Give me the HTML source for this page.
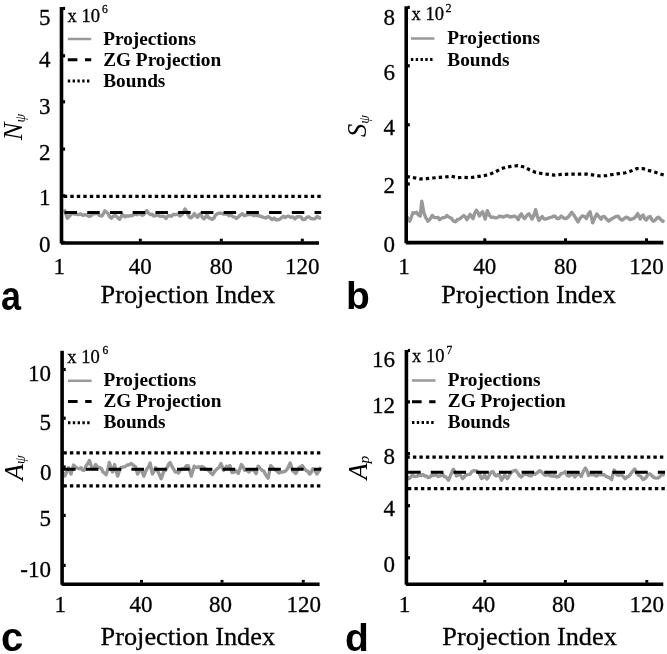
<!DOCTYPE html>
<html><head><meta charset="utf-8"><style>
html,body{margin:0;padding:0;background:#fff;}
svg{display:block;}
</style></head><body>
<div style="will-change:transform;width:667px;height:654px"><svg width="667" height="654" viewBox="0 0 667 654">
<rect width="667" height="654" fill="#fff"/>
<polyline points="64.4,209.2 67.3,218.2 69.7,215.9 72.0,213.0 74.0,214.1 76.0,214.0 78.3,214.7 80.6,214.0 82.9,215.4 85.3,214.6 87.3,215.5 89.3,216.3 91.3,215.6 93.2,213.6 95.1,213.8 97.0,213.0 99.5,215.6 101.9,216.0 103.4,213.8 104.9,210.8 107.8,213.2 109.7,216.7 111.5,218.2 113.5,216.0 115.5,215.6 117.5,217.4 119.5,219.3 122.4,214.6 125.2,216.8 127.0,215.8 128.7,216.2 130.5,215.7 132.6,215.5 134.7,213.9 136.8,214.7 138.6,213.9 140.4,213.9 142.3,215.3 144.1,214.2 146.8,210.5 148.6,213.2 150.4,214.7 152.2,214.2 153.9,216.1 155.7,215.7 157.8,215.0 159.9,216.4 162.0,216.3 164.1,216.5 166.2,218.4 167.8,215.9 169.3,215.7 171.4,216.3 173.5,214.3 175.6,214.7 177.7,214.0 179.8,215.9 181.9,214.7 183.4,212.7 185.0,208.9 186.6,211.3 188.1,214.7 189.7,217.4 191.3,217.8 192.9,215.8 194.4,213.6 196.0,215.9 197.6,217.3 199.1,214.7 200.7,213.6 202.3,217.3 203.9,218.9 205.4,217.3 207.0,214.7 208.6,217.7 210.2,218.4 212.3,219.4 213.9,218.2 215.4,215.2 217.5,213.7 219.6,213.1 221.7,213.3 223.8,214.2 225.5,213.9 227.3,214.3 229.0,215.7 231.2,215.2 233.3,216.8 234.9,217.1 236.4,218.4 238.5,216.8 240.6,214.7 242.4,213.7 244.1,215.5 245.9,215.2 248.0,214.6 250.1,214.4 252.2,214.7 253.7,215.7 255.2,215.2 257.3,215.7 259.4,215.8 261.5,216.7 263.6,217.3 265.7,218.0 267.9,216.6 270.0,217.8 272.1,219.6 274.1,218.1 276.2,219.9 278.0,219.8 279.7,219.3 281.5,217.8 283.3,216.3 285.1,217.7 287.0,216.4 288.8,216.3 290.9,217.4 293.0,216.9 295.1,218.9 297.2,216.8 299.3,216.8 301.1,216.9 302.8,219.6 304.6,219.4 306.7,217.4 308.8,216.8 310.9,218.5 313.0,218.9 315.1,218.6 317.2,216.3 319.1,218.0 321.0,217.5" fill="none" stroke="#999" stroke-width="3.4" stroke-linejoin="round" />
<line x1="63.8" y1="196.4" x2="321.2" y2="196.4" stroke="#000" stroke-width="3.2" stroke-dasharray="3.4 3.1"/>
<line x1="64.5" y1="212.4" x2="321.2" y2="212.4" stroke="#000" stroke-width="3" stroke-dasharray="12.5 10.23"/>
<line x1="61.5" y1="7" x2="61.5" y2="243.5" stroke="#000" stroke-width="3.6" />
<line x1="61.0" y1="243" x2="319" y2="243" stroke="#000" stroke-width="3.6" />
<line x1="63.0" y1="242.5" x2="65.1" y2="242.5" stroke="#000" stroke-width="3.2" />
<line x1="63.0" y1="195.8" x2="65.1" y2="195.8" stroke="#000" stroke-width="3.2" />
<line x1="63.0" y1="149.1" x2="65.1" y2="149.1" stroke="#000" stroke-width="3.2" />
<line x1="63.0" y1="101.8" x2="65.1" y2="101.8" stroke="#000" stroke-width="3.2" />
<line x1="63.0" y1="55.8" x2="65.1" y2="55.8" stroke="#000" stroke-width="3.2" />
<line x1="63.0" y1="8.5" x2="65.1" y2="8.5" stroke="#000" stroke-width="3.2" />
<line x1="140.3" y1="241.5" x2="140.3" y2="238.7" stroke="#000" stroke-width="3" />
<line x1="221.3" y1="241.5" x2="221.3" y2="238.7" stroke="#000" stroke-width="3" />
<line x1="302.3" y1="241.5" x2="302.3" y2="238.7" stroke="#000" stroke-width="3" />
<text x="50.5" y="251.5" font-family='"Liberation Serif", serif' font-size="23" font-weight="normal" font-style="normal" text-anchor="end" stroke="#000" stroke-width="0.3" >0</text>
<text x="50.5" y="205.2" font-family='"Liberation Serif", serif' font-size="23" font-weight="normal" font-style="normal" text-anchor="end" stroke="#000" stroke-width="0.3" >1</text>
<text x="50.5" y="159.5" font-family='"Liberation Serif", serif' font-size="23" font-weight="normal" font-style="normal" text-anchor="end" stroke="#000" stroke-width="0.3" >2</text>
<text x="50.5" y="113.5" font-family='"Liberation Serif", serif' font-size="23" font-weight="normal" font-style="normal" text-anchor="end" stroke="#000" stroke-width="0.3" >3</text>
<text x="50.5" y="66.8" font-family='"Liberation Serif", serif' font-size="23" font-weight="normal" font-style="normal" text-anchor="end" stroke="#000" stroke-width="0.3" >4</text>
<text x="50.5" y="24.5" font-family='"Liberation Serif", serif' font-size="23" font-weight="normal" font-style="normal" text-anchor="end" stroke="#000" stroke-width="0.3" >5</text>
<text x="59.3" y="273.8" font-family='"Liberation Serif", serif' font-size="23" font-weight="normal" font-style="normal" text-anchor="middle" stroke="#000" stroke-width="0.3" >1</text>
<text x="140.3" y="273.8" font-family='"Liberation Serif", serif' font-size="23" font-weight="normal" font-style="normal" text-anchor="middle" stroke="#000" stroke-width="0.3" >40</text>
<text x="221.3" y="273.8" font-family='"Liberation Serif", serif' font-size="23" font-weight="normal" font-style="normal" text-anchor="middle" stroke="#000" stroke-width="0.3" >80</text>
<text x="302.3" y="273.8" font-family='"Liberation Serif", serif' font-size="23" font-weight="normal" font-style="normal" text-anchor="middle" stroke="#000" stroke-width="0.3" >120</text>
<text x="100.6" y="302.6" font-family='"Liberation Serif", serif' font-size="25.2" font-weight="normal" font-style="normal" text-anchor="start" stroke="#000" stroke-width="0.3" textLength="174.5" lengthAdjust="spacingAndGlyphs">Projection Index</text>
<text x="1" y="309.5" font-family='"Liberation Sans", sans-serif' font-size="40" font-weight="bold" font-style="normal" text-anchor="start"  textLength="20" lengthAdjust="spacingAndGlyphs">a</text>
<line x1="67.8" y1="39" x2="91.2" y2="39" stroke="#999" stroke-width="2.5" />
<text x="103.2" y="45" font-family='"Liberation Serif", serif' font-size="18.6" font-weight="bold" font-style="normal" text-anchor="start"  textLength="92.8" lengthAdjust="spacingAndGlyphs">Projections</text>
<line x1="67.8" y1="59.8" x2="91.2" y2="59.8" stroke="#000" stroke-width="3" stroke-dasharray="9.6 7.6"/>
<text x="103.2" y="66.1" font-family='"Liberation Serif", serif' font-size="18.6" font-weight="bold" font-style="normal" text-anchor="start"  textLength="118" lengthAdjust="spacingAndGlyphs">ZG Projection</text>
<line x1="67.8" y1="80.9" x2="91.2" y2="80.9" stroke="#000" stroke-width="3" stroke-dasharray="2.4 2.4"/>
<text x="103.2" y="86.9" font-family='"Liberation Serif", serif' font-size="18.6" font-weight="bold" font-style="normal" text-anchor="start"  textLength="62.2" lengthAdjust="spacingAndGlyphs">Bounds</text>
<text x="67.5" y="21.6" font-family='"Liberation Serif", serif' font-size="18.5" font-weight="normal" font-style="normal" text-anchor="start" stroke="#000" stroke-width="0.3" >x 10</text>
<text x="102" y="12.8" font-family='"Liberation Serif", serif' font-size="11.5" font-weight="normal" font-style="normal" text-anchor="start" stroke="#000" stroke-width="0.3" >6</text>
<text transform="translate(22,127) rotate(-90)" font-family='"Liberation Serif", serif' font-size="26.5" font-style="italic" text-anchor="middle">N<tspan font-size="14" font-style="italic" dy="2.5">ψ</tspan></text>
<path d="M406.5,176.6 L408.6,176.8 L414,177.7 L420,178.9 L426.6,178.6 L432.6,178 L439.2,177.4 L445.2,177 L451.2,176.2 L457.2,177.7 L463.8,177.4 L469.7,177.7 L476.3,176.8 L482.3,175.8 L488.4,174.8 L494.4,172.4 L500.4,169.1 L506.4,167 L511.8,166.4 L517.8,165.6 L524.4,167 L529.8,170 L535.8,172.4 L542.4,173.6 L548.3,174.4 L554.9,175.1 L561.4,174.4 L568,174.2 L574.6,174.2 L580.9,174.2 L587.4,174.2 L593.8,175.1 L600.1,176 L606.4,175.6 L612.6,174.5 L619,173.6 L625.4,172.8 L630.9,171.1 L636.9,168.5 L643.2,168.7 L649.3,170.6 L655.3,172.3 L661.3,174.2 L664,175" fill="none" stroke="#000" stroke-width="3.2" stroke-dasharray="3.4 3.1"/>
<polyline points="407.1,217.0 409.7,221.2 411.3,217.3 412.9,212.8 414.7,213.1 416.5,212.3 418.4,214.9 420.2,216.0 421.8,201.3 423.9,212.8 426.0,218.1 428.1,221.2 430.2,218.9 432.3,215.5 434.4,217.6 436.5,217.6 438.1,217.5 439.6,219.7 441.2,218.6 442.8,217.6 444.9,217.6 447.0,215.5 449.1,217.2 451.2,218.1 453.3,220.9 455.4,221.8 457.5,219.5 459.6,219.1 461.7,217.2 463.8,215.5 465.4,217.0 466.9,219.7 468.5,217.2 470.1,214.4 471.6,216.7 473.1,218.6 474.7,213.2 476.3,210.2 477.9,212.4 479.4,216.0 481.0,213.4 482.6,211.8 485.2,219.1 487.3,210.7 489.9,216.0 491.5,217.5 493.1,217.0 495.2,217.9 497.3,217.6 499.4,216.2 501.5,216.5 503.6,217.0 505.7,216.0 507.8,215.6 509.9,217.0 512.0,216.8 514.1,216.0 516.2,217.0 518.3,219.7 519.8,215.6 521.4,213.9 523.0,217.1 524.6,218.6 526.7,215.6 528.8,213.9 530.3,215.8 531.9,219.1 533.8,215.6 535.6,209.7 537.2,216.0 538.9,220.5 540.6,218.0 542.3,216.5 543.9,218.9 545.5,219.1 547.6,218.4 549.7,217.6 551.8,217.2 553.9,216.0 555.5,216.6 557.0,218.6 559.1,218.4 561.2,216.0 563.3,217.8 565.4,218.6 567.5,217.6 569.6,215.3 571.7,212.3 573.8,215.0 575.9,218.3 578.0,221.8 580.1,218.1 582.2,216.0 584.3,216.4 586.4,218.6 588.2,214.2 590.1,211.8 592.7,222.8 594.8,217.9 596.9,213.9 599.0,216.7 601.1,219.1 602.7,216.6 604.3,216.5 606.6,219.2 609.0,221.1 611.0,219.2 613.1,218.1 615.6,216.6 618.1,216.1 620.1,218.9 622.1,220.1 624.1,218.6 626.1,217.1 628.1,217.9 630.1,219.6 632.2,218.8 634.2,218.1 636.0,216.3 637.7,213.6 640.2,219.1 641.7,216.0 643.2,215.1 644.7,218.7 646.2,220.1 648.2,217.2 650.2,216.6 651.7,219.4 653.2,221.1 655.2,220.2 657.3,217.6 658.8,217.2 660.3,219.1 662.4,221.0 664.5,221.6" fill="none" stroke="#999" stroke-width="3.4" stroke-linejoin="round" />
<line x1="406.2" y1="6.3" x2="406.2" y2="243.1" stroke="#000" stroke-width="3.6" />
<line x1="405.7" y1="242.6" x2="663.4" y2="242.6" stroke="#000" stroke-width="3.6" />
<line x1="407.7" y1="242.6" x2="409.8" y2="242.6" stroke="#000" stroke-width="3.2" />
<line x1="407.7" y1="184" x2="409.8" y2="184" stroke="#000" stroke-width="3.2" />
<line x1="407.7" y1="124.8" x2="409.8" y2="124.8" stroke="#000" stroke-width="3.2" />
<line x1="407.7" y1="65.8" x2="409.8" y2="65.8" stroke="#000" stroke-width="3.2" />
<line x1="407.7" y1="7.4" x2="409.8" y2="7.4" stroke="#000" stroke-width="3.2" />
<line x1="484.8" y1="241.1" x2="484.8" y2="238.29999999999998" stroke="#000" stroke-width="3" />
<line x1="565.5" y1="241.1" x2="565.5" y2="238.29999999999998" stroke="#000" stroke-width="3" />
<line x1="646.5" y1="241.1" x2="646.5" y2="238.29999999999998" stroke="#000" stroke-width="3" />
<text x="395" y="252" font-family='"Liberation Serif", serif' font-size="23" font-weight="normal" font-style="normal" text-anchor="end" stroke="#000" stroke-width="0.3" >0</text>
<text x="395" y="193.2" font-family='"Liberation Serif", serif' font-size="23" font-weight="normal" font-style="normal" text-anchor="end" stroke="#000" stroke-width="0.3" >2</text>
<text x="395" y="134.6" font-family='"Liberation Serif", serif' font-size="23" font-weight="normal" font-style="normal" text-anchor="end" stroke="#000" stroke-width="0.3" >4</text>
<text x="395" y="79.6" font-family='"Liberation Serif", serif' font-size="23" font-weight="normal" font-style="normal" text-anchor="end" stroke="#000" stroke-width="0.3" >6</text>
<text x="395" y="24.5" font-family='"Liberation Serif", serif' font-size="23" font-weight="normal" font-style="normal" text-anchor="end" stroke="#000" stroke-width="0.3" >8</text>
<text x="404.0" y="273.8" font-family='"Liberation Serif", serif' font-size="23" font-weight="normal" font-style="normal" text-anchor="middle" stroke="#000" stroke-width="0.3" >1</text>
<text x="484.8" y="273.8" font-family='"Liberation Serif", serif' font-size="23" font-weight="normal" font-style="normal" text-anchor="middle" stroke="#000" stroke-width="0.3" >40</text>
<text x="565.5" y="273.8" font-family='"Liberation Serif", serif' font-size="23" font-weight="normal" font-style="normal" text-anchor="middle" stroke="#000" stroke-width="0.3" >80</text>
<text x="646.5" y="273.8" font-family='"Liberation Serif", serif' font-size="23" font-weight="normal" font-style="normal" text-anchor="middle" stroke="#000" stroke-width="0.3" >120</text>
<text x="441.3" y="302.9" font-family='"Liberation Serif", serif' font-size="25.2" font-weight="normal" font-style="normal" text-anchor="start" stroke="#000" stroke-width="0.3" textLength="174.5" lengthAdjust="spacingAndGlyphs">Projection Index</text>
<text x="346" y="308.8" font-family='"Liberation Sans", sans-serif' font-size="39" font-weight="bold" font-style="normal" text-anchor="start"  >b</text>
<line x1="410.9" y1="38.5" x2="434.4" y2="38.5" stroke="#999" stroke-width="2.5" />
<text x="447.3" y="44.4" font-family='"Liberation Serif", serif' font-size="18.6" font-weight="bold" font-style="normal" text-anchor="start"  textLength="92.8" lengthAdjust="spacingAndGlyphs">Projections</text>
<line x1="410.9" y1="59.4" x2="434.4" y2="59.4" stroke="#000" stroke-width="3" stroke-dasharray="2.4 2.4"/>
<text x="447.3" y="65.5" font-family='"Liberation Serif", serif' font-size="18.6" font-weight="bold" font-style="normal" text-anchor="start"  textLength="62.2" lengthAdjust="spacingAndGlyphs">Bounds</text>
<text x="411.5" y="20.3" font-family='"Liberation Serif", serif' font-size="18.5" font-weight="normal" font-style="normal" text-anchor="start" stroke="#000" stroke-width="0.3" >x 10</text>
<text x="445.7" y="11.5" font-family='"Liberation Serif", serif' font-size="11.5" font-weight="normal" font-style="normal" text-anchor="start" stroke="#000" stroke-width="0.3" >2</text>
<text transform="translate(366,126) rotate(-90)" font-family='"Liberation Serif", serif' font-size="26.5" font-style="italic" text-anchor="middle">S<tspan font-size="14" font-style="italic" dy="2.5">ψ</tspan></text>
<line x1="63.4" y1="452.8" x2="321" y2="452.8" stroke="#000" stroke-width="3.2" stroke-dasharray="3.4 3.1"/>
<line x1="63.4" y1="485.9" x2="321" y2="485.9" stroke="#000" stroke-width="3.2" stroke-dasharray="3.4 3.1"/>
<polyline points="63.1,472.0 64.7,476.1 66.6,472.2 68.4,467.7 71.0,474.0 73.6,465.1 75.7,467.3 77.8,468.3 79.4,468.7 81.0,467.7 82.5,470.1 84.1,470.4 86.2,465.6 87.8,463.6 89.4,460.4 91.5,466.7 93.6,468.8 95.7,464.6 97.8,467.2 99.9,467.7 101.5,468.7 103.0,472.0 104.6,473.2 106.2,474.6 107.8,469.6 109.3,462.5 110.9,467.6 112.5,472.0 114.6,464.6 116.2,471.3 117.7,476.1 119.3,471.0 120.9,467.7 123.0,467.1 125.1,466.7 127.2,465.0 129.2,464.7 131.3,463.5 133.4,465.3 135.5,466.7 137.6,474.0 139.1,470.7 140.7,469.8 142.3,472.3 143.9,476.1 145.4,471.9 147.0,468.8 148.6,466.9 150.2,463.0 152.3,474.0 153.9,471.5 155.4,467.7 157.0,469.5 158.6,473.0 161.2,478.8 163.8,471.4 165.4,470.3 167.0,467.7 168.6,464.2 170.1,462.5 171.7,465.9 173.3,468.8 175.4,472.0 176.9,471.6 178.5,473.0 180.6,469.7 182.7,468.8 184.5,468.6 186.2,466.0 188.0,465.6 189.7,470.2 191.3,476.1 194.2,466.2 196.3,467.6 198.4,466.7 200.1,467.8 201.9,466.5 203.6,467.2 205.4,469.4 207.1,469.4 208.9,470.4 210.8,472.9 212.6,474.6 214.9,471.0 217.3,468.8 219.2,467.2 221.0,463.5 223.6,470.4 225.1,468.8 226.7,466.2 228.3,467.0 229.9,465.6 232.0,472.5 233.6,472.4 235.1,470.4 236.7,471.5 238.3,473.5 239.9,468.7 241.4,464.6 243.0,466.7 244.6,470.4 246.7,470.3 248.8,472.0 250.9,469.9 253.0,469.8 254.6,471.2 256.1,473.5 258.1,466.2 260.2,468.5 262.3,470.4 263.9,471.3 265.5,474.6 268.1,478.2 270.7,465.6 272.8,468.1 274.9,469.8 277.0,471.0 279.1,473.0 281.2,472.0 283.3,472.0 285.4,471.2 287.5,468.8 290.2,463.0 292.8,470.9 294.4,472.2 295.9,473.5 297.5,470.2 299.1,467.7 300.6,466.6 302.2,465.6 304.3,468.7 306.4,470.9 308.0,471.4 309.6,474.0 311.1,472.5 312.7,468.8 314.8,470.3 316.9,474.0 318.9,471.1 321.0,467.0" fill="none" stroke="#999" stroke-width="3.4" stroke-linejoin="round" />
<line x1="63" y1="469.2" x2="321" y2="469.2" stroke="#000" stroke-width="3" stroke-dasharray="12.6 10.2"/>
<line x1="62.1" y1="350.8" x2="62.1" y2="584.7" stroke="#000" stroke-width="3.6" />
<line x1="61.6" y1="584.2" x2="319.6" y2="584.2" stroke="#000" stroke-width="3.6" />
<line x1="63.6" y1="369.5" x2="65.7" y2="369.5" stroke="#000" stroke-width="3.2" />
<line x1="63.6" y1="418.2" x2="65.7" y2="418.2" stroke="#000" stroke-width="3.2" />
<line x1="63.6" y1="467" x2="65.7" y2="467" stroke="#000" stroke-width="3.2" />
<line x1="63.6" y1="515.4" x2="65.7" y2="515.4" stroke="#000" stroke-width="3.2" />
<line x1="63.6" y1="565.4" x2="65.7" y2="565.4" stroke="#000" stroke-width="3.2" />
<line x1="141.5" y1="582.7" x2="141.5" y2="579.9000000000001" stroke="#000" stroke-width="3" />
<line x1="222" y1="582.7" x2="222" y2="579.9000000000001" stroke="#000" stroke-width="3" />
<line x1="303.3" y1="582.7" x2="303.3" y2="579.9000000000001" stroke="#000" stroke-width="3" />
<text x="51" y="380.9" font-family='"Liberation Serif", serif' font-size="23" font-weight="normal" font-style="normal" text-anchor="end" stroke="#000" stroke-width="0.3" >10</text>
<text x="51" y="429.6" font-family='"Liberation Serif", serif' font-size="23" font-weight="normal" font-style="normal" text-anchor="end" stroke="#000" stroke-width="0.3" >5</text>
<text x="51.5" y="480.4" font-family='"Liberation Serif", serif' font-size="23" font-weight="normal" font-style="normal" text-anchor="end" stroke="#000" stroke-width="0.3" >0</text>
<text x="51" y="525.7" font-family='"Liberation Serif", serif' font-size="23" font-weight="normal" font-style="normal" text-anchor="end" stroke="#000" stroke-width="0.3" >5</text>
<text x="51" y="576.5" font-family='"Liberation Serif", serif' font-size="23" font-weight="normal" font-style="normal" text-anchor="end" stroke="#000" stroke-width="0.3" >-10</text>
<text x="60.3" y="612" font-family='"Liberation Serif", serif' font-size="23" font-weight="normal" font-style="normal" text-anchor="middle" stroke="#000" stroke-width="0.3" >1</text>
<text x="141.0" y="612" font-family='"Liberation Serif", serif' font-size="23" font-weight="normal" font-style="normal" text-anchor="middle" stroke="#000" stroke-width="0.3" >40</text>
<text x="220.5" y="612" font-family='"Liberation Serif", serif' font-size="23" font-weight="normal" font-style="normal" text-anchor="middle" stroke="#000" stroke-width="0.3" >80</text>
<text x="303.8" y="612" font-family='"Liberation Serif", serif' font-size="23" font-weight="normal" font-style="normal" text-anchor="middle" stroke="#000" stroke-width="0.3" >120</text>
<text x="100.6" y="645.2" font-family='"Liberation Serif", serif' font-size="25.2" font-weight="normal" font-style="normal" text-anchor="start" stroke="#000" stroke-width="0.3" textLength="174.5" lengthAdjust="spacingAndGlyphs">Projection Index</text>
<text x="1" y="651" font-family='"Liberation Sans", sans-serif' font-size="40" font-weight="bold" font-style="normal" text-anchor="start"  >c</text>
<line x1="68" y1="380.8" x2="91.6" y2="380.8" stroke="#999" stroke-width="2.5" />
<text x="103.4" y="386.4" font-family='"Liberation Serif", serif' font-size="18.6" font-weight="bold" font-style="normal" text-anchor="start"  textLength="92.8" lengthAdjust="spacingAndGlyphs">Projections</text>
<line x1="68" y1="401.6" x2="91.6" y2="401.6" stroke="#000" stroke-width="3" stroke-dasharray="9.6 7.6"/>
<text x="103.4" y="407.2" font-family='"Liberation Serif", serif' font-size="18.6" font-weight="bold" font-style="normal" text-anchor="start"  textLength="118" lengthAdjust="spacingAndGlyphs">ZG Projection</text>
<line x1="68" y1="422.8" x2="91.6" y2="422.8" stroke="#000" stroke-width="3" stroke-dasharray="2.4 2.4"/>
<text x="103.4" y="428.4" font-family='"Liberation Serif", serif' font-size="18.6" font-weight="bold" font-style="normal" text-anchor="start"  textLength="62.2" lengthAdjust="spacingAndGlyphs">Bounds</text>
<text x="67.3" y="362.9" font-family='"Liberation Serif", serif' font-size="18.5" font-weight="normal" font-style="normal" text-anchor="start" stroke="#000" stroke-width="0.3" >x 10</text>
<text x="102.5" y="354.09999999999997" font-family='"Liberation Serif", serif' font-size="11.5" font-weight="normal" font-style="normal" text-anchor="start" stroke="#000" stroke-width="0.3" >6</text>
<text transform="translate(22.5,467.8) rotate(-90)" font-family='"Liberation Serif", serif' font-size="26.5" font-style="italic" text-anchor="middle">A<tspan font-size="14" font-style="italic" dy="2.5">ψ</tspan></text>
<line x1="406.4" y1="457.1" x2="665" y2="457.1" stroke="#000" stroke-width="3.2" stroke-dasharray="3.4 3.1"/>
<line x1="407.9" y1="488.6" x2="665.5" y2="488.6" stroke="#000" stroke-width="3.2" stroke-dasharray="3.4 3.1"/>
<polyline points="407.1,477.0 409.2,478.6 410.8,477.0 412.3,474.9 413.9,476.3 415.5,476.5 417.1,476.4 418.6,474.9 420.7,475.7 422.8,474.4 424.4,475.8 426.0,476.0 428.1,477.5 430.2,477.0 431.8,475.1 433.3,475.5 434.9,475.1 436.5,474.9 438.1,476.5 439.6,476.0 441.2,475.6 442.8,474.4 444.4,476.7 445.9,477.0 448.5,480.2 451.2,473.9 453.3,469.2 454.9,471.7 456.4,476.0 458.0,475.1 459.6,474.4 461.1,475.9 462.7,478.6 464.3,476.9 465.9,474.9 468.0,474.7 470.1,474.2 472.1,471.3 474.2,470.7 476.3,470.8 478.4,472.3 479.9,474.9 481.5,478.6 483.1,477.7 484.7,474.9 486.8,479.1 488.4,477.1 489.9,473.9 491.5,472.0 493.1,471.8 494.6,474.6 496.2,476.0 497.8,474.6 499.4,474.9 501.5,480.2 503.1,477.8 504.6,474.9 507.3,478.6 509.9,474.4 512.0,471.7 514.1,470.7 515.7,470.3 517.2,472.3 519.3,475.5 521.4,477.0 523.0,475.0 524.6,474.4 526.7,474.3 528.8,475.5 530.9,475.9 533.0,473.9 535.1,474.2 537.2,472.8 539.5,470.7 541.5,471.8 543.4,473.9 545.1,475.3 546.9,474.7 548.6,474.9 550.7,475.9 552.8,476.0 554.9,475.8 557.0,477.0 559.1,476.3 561.2,473.4 563.3,473.1 565.4,471.8 567.0,475.0 568.6,476.0 570.2,475.6 571.7,473.4 573.3,474.7 574.9,477.0 576.5,475.1 578.0,473.9 579.6,474.4 581.2,476.5 583.3,471.4 585.4,468.1 587.0,470.8 588.5,475.5 590.6,474.5 592.7,474.4 594.8,475.4 596.9,476.0 599.0,474.3 601.1,474.9 604.0,474.6 606.0,476.3 608.0,477.1 609.8,478.0 611.6,479.6 614.1,470.1 615.6,472.1 617.1,475.1 619.1,475.4 621.1,474.1 623.1,476.3 625.1,478.6 627.1,476.9 629.1,476.1 630.6,474.1 632.1,472.1 634.7,469.1 636.5,472.6 638.2,475.1 640.7,476.3 643.2,479.6 645.7,478.0 648.2,474.1 650.2,474.0 652.2,476.1 654.2,477.7 656.3,478.1 658.3,477.9 660.3,476.1 662.5,474.4 664.8,475.1" fill="none" stroke="#999" stroke-width="3.4" stroke-linejoin="round" />
<line x1="408.1" y1="472.3" x2="665" y2="472.3" stroke="#000" stroke-width="3" stroke-dasharray="12.6 10.1"/>
<line x1="406.4" y1="350" x2="406.4" y2="584.8" stroke="#000" stroke-width="3.6" />
<line x1="405.9" y1="584.3" x2="663.3" y2="584.3" stroke="#000" stroke-width="3.6" />
<line x1="407.9" y1="350.5" x2="410.0" y2="350.5" stroke="#000" stroke-width="3.2" />
<line x1="407.9" y1="401.9" x2="410.0" y2="401.9" stroke="#000" stroke-width="3.2" />
<line x1="407.9" y1="453.6" x2="410.0" y2="453.6" stroke="#000" stroke-width="3.2" />
<line x1="407.9" y1="505.7" x2="410.0" y2="505.7" stroke="#000" stroke-width="3.2" />
<line x1="407.9" y1="557.8" x2="410.0" y2="557.8" stroke="#000" stroke-width="3.2" />
<line x1="484.8" y1="582.8" x2="484.8" y2="580.0" stroke="#000" stroke-width="3" />
<line x1="565.5" y1="582.8" x2="565.5" y2="580.0" stroke="#000" stroke-width="3" />
<line x1="646.8" y1="582.8" x2="646.8" y2="580.0" stroke="#000" stroke-width="3" />
<text x="395" y="366.8" font-family='"Liberation Serif", serif' font-size="23" font-weight="normal" font-style="normal" text-anchor="end" stroke="#000" stroke-width="0.3" >16</text>
<text x="395" y="413.4" font-family='"Liberation Serif", serif' font-size="23" font-weight="normal" font-style="normal" text-anchor="end" stroke="#000" stroke-width="0.3" >12</text>
<text x="395" y="463.6" font-family='"Liberation Serif", serif' font-size="23" font-weight="normal" font-style="normal" text-anchor="end" stroke="#000" stroke-width="0.3" >8</text>
<text x="395" y="515.6" font-family='"Liberation Serif", serif' font-size="23" font-weight="normal" font-style="normal" text-anchor="end" stroke="#000" stroke-width="0.3" >4</text>
<text x="395" y="571.8" font-family='"Liberation Serif", serif' font-size="23" font-weight="normal" font-style="normal" text-anchor="end" stroke="#000" stroke-width="0.3" >0</text>
<text x="404.5" y="612" font-family='"Liberation Serif", serif' font-size="23" font-weight="normal" font-style="normal" text-anchor="middle" stroke="#000" stroke-width="0.3" >1</text>
<text x="483.8" y="612" font-family='"Liberation Serif", serif' font-size="23" font-weight="normal" font-style="normal" text-anchor="middle" stroke="#000" stroke-width="0.3" >40</text>
<text x="563.5" y="612" font-family='"Liberation Serif", serif' font-size="23" font-weight="normal" font-style="normal" text-anchor="middle" stroke="#000" stroke-width="0.3" >80</text>
<text x="646.8" y="612" font-family='"Liberation Serif", serif' font-size="23" font-weight="normal" font-style="normal" text-anchor="middle" stroke="#000" stroke-width="0.3" >120</text>
<text x="442.3" y="645.2" font-family='"Liberation Serif", serif' font-size="25.2" font-weight="normal" font-style="normal" text-anchor="start" stroke="#000" stroke-width="0.3" textLength="174.5" lengthAdjust="spacingAndGlyphs">Projection Index</text>
<text x="345" y="651" font-family='"Liberation Sans", sans-serif' font-size="39" font-weight="bold" font-style="normal" text-anchor="start"  >d</text>
<line x1="412" y1="380.5" x2="435.5" y2="380.5" stroke="#999" stroke-width="2.5" />
<text x="447.8" y="386.4" font-family='"Liberation Serif", serif' font-size="18.6" font-weight="bold" font-style="normal" text-anchor="start"  textLength="92.8" lengthAdjust="spacingAndGlyphs">Projections</text>
<line x1="412" y1="401.7" x2="435.5" y2="401.7" stroke="#000" stroke-width="3" stroke-dasharray="9.6 7.6"/>
<text x="447.8" y="407.2" font-family='"Liberation Serif", serif' font-size="18.6" font-weight="bold" font-style="normal" text-anchor="start"  textLength="118" lengthAdjust="spacingAndGlyphs">ZG Projection</text>
<line x1="412" y1="422.4" x2="435.5" y2="422.4" stroke="#000" stroke-width="3" stroke-dasharray="2.4 2.4"/>
<text x="447.8" y="428.1" font-family='"Liberation Serif", serif' font-size="18.6" font-weight="bold" font-style="normal" text-anchor="start"  textLength="62.2" lengthAdjust="spacingAndGlyphs">Bounds</text>
<text x="412" y="362.4" font-family='"Liberation Serif", serif' font-size="18.5" font-weight="normal" font-style="normal" text-anchor="start" stroke="#000" stroke-width="0.3" >x 10</text>
<text x="446.5" y="353.59999999999997" font-family='"Liberation Serif", serif' font-size="11.5" font-weight="normal" font-style="normal" text-anchor="start" stroke="#000" stroke-width="0.3" >7</text>
<text transform="translate(366.5,467.6) rotate(-90)" font-family='"Liberation Serif", serif' font-size="26.5" font-style="italic" text-anchor="middle">A<tspan font-size="15.5" font-style="italic" dy="2">p</tspan></text>
</svg></div>
</body></html>
